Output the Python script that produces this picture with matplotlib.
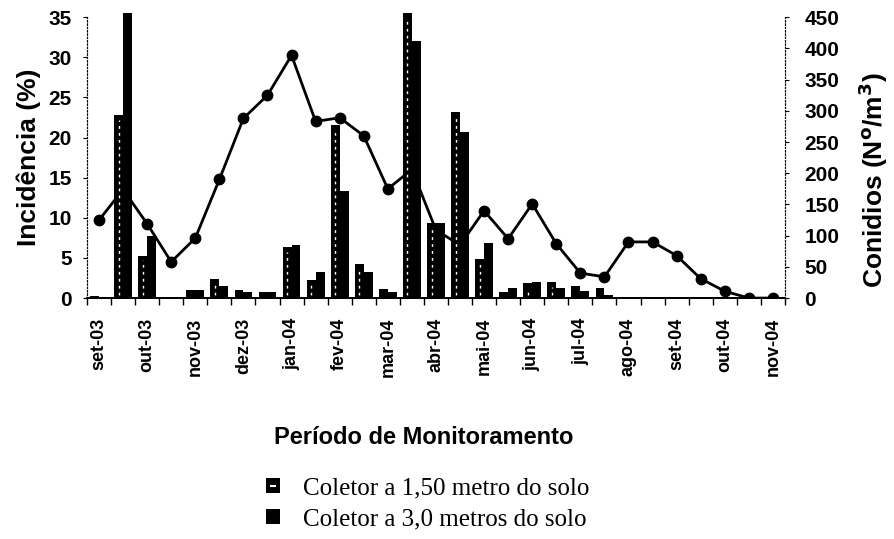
import numpy as np
import matplotlib
matplotlib.use("Agg")
import matplotlib.pyplot as plt
from matplotlib.lines import Line2D
from matplotlib.patches import Rectangle
from matplotlib.legend_handler import HandlerTuple

meses = ['set-03', 'out-03', 'nov-03', 'dez-03', 'jan-04', 'fev-04', 'mar-04', 'abr-04',
         'mai-04', 'jun-04', 'jul-04', 'ago-04', 'set-04', 'out-04', 'nov-04']

# incidencia (%) - coletas quinzenais
coletor_150 = [0.3, 22.8, 5.3, 0, 1.0, 2.4, 1.0, 0.8, 6.4, 2.2, 21.6, 4.2, 1.1, 35.5, 9.3,
               23.2, 4.9, 0.7, 1.9, 2.0, 1.5, 1.2, 0, 0, 0, 0, 0, 0, 0]
coletor_300 = [0, 35.5, 7.7, 0, 1.0, 1.5, 0.8, 0.8, 6.6, 3.2, 13.4, 3.2, 0.8, 32.0, 9.3,
               20.7, 6.9, 1.2, 2.0, 1.2, 0.9, 0.4, 0, 0, 0, 0, 0, 0, 0]
# conidios (N/m3)
conidios = [125, 174, 119, 58, 96, 190, 288, 325, 389, 283, 289, 260, 175, 206, 109,
            85, 140, 95, 151, 87, 40, 34, 90, 90, 68, 31, 11, 0, 0]

plt.rcParams['font.family'] = 'Liberation Sans'
plt.rcParams['font.weight'] = 'bold'

x = np.arange(len(conidios))
w = 0.37

fig = plt.figure(figsize=(8.94, 5.39), dpi=100)
ax = fig.add_axes([0.0973, 0.447, 0.7807, 0.521])
ax2 = ax.twinx()

# linha de conidios fica por baixo das barras
ax2.plot(x, conidios, color='black', lw=2, marker='o', ms=7.5, zorder=2)
ax.set_zorder(ax2.get_zorder() + 1)
ax.patch.set_visible(False)

b1 = ax.bar(x - w / 2, coletor_150, w, color='black', clip_on=False)
b2 = ax.bar(x + w / 2, coletor_300, w, color='black', clip_on=False)
h150 = np.array(coletor_150)
xl = (x - w / 2)[h150 > 1.5]
ax.vlines(xl, 0.4, h150[h150 > 1.5] - 0.6, colors='white', linestyles=(0, (2, 3)), lw=1)

ax.set_xlim(-0.5, len(x) - 0.5)
ax.set_ylim(0, 35)
ax2.set_ylim(0, 450)
ax.set_yticks(range(0, 36, 5))
ax2.set_yticks(range(0, 451, 50))

ax.set_xticks(x[::2])
ax.set_xticklabels(meses, rotation=90, fontsize=13)
ax.set_xticks(np.arange(-0.5, len(x), 1), minor=True)
ax.tick_params(axis='x', which='major', length=0, pad=14)
ax.tick_params(axis='x', which='minor', length=5, direction='out', width=1)
ax.tick_params(axis='y', labelsize=15, length=3, pad=8)
ax2.tick_params(axis='y', labelsize=15, length=3, pad=11)

for a in (ax, ax2):
    a.spines['top'].set_visible(False)
    a.spines['left'].set_linestyle((0, (1, 2)))
    a.spines['right'].set_linestyle((0, (1, 2)))
    a.spines['left'].set_linewidth(0.8)
    a.spines['right'].set_linewidth(0.8)
    a.spines['bottom'].set_linewidth(1.3)

ax.set_ylabel('Incidência (%)', fontsize=19, fontweight='bold', labelpad=5)
ax2.set_ylabel('Conidios (N$^{\\mathbf{o}}$/m$^{\\mathbf{3}}$)', fontsize=19, fontweight='bold')
ax2.yaxis.set_label_coords(1.103, 0.42)
ax.set_xlabel('Período de Monitoramento', fontsize=17, fontweight='bold')
ax.xaxis.set_label_coords(0.483, -0.455)

quadro = Rectangle((0, 0), 1, 1, fc='black')
marca = Line2D([], [], marker='_', color='white', ms=4, mew=1.5, ls='none')
fig.legend([(quadro, marca), Rectangle((0, 0), 1, 1, fc='black')],
           ['Coletor a 1,50 metro do solo', 'Coletor a 3,0 metros do solo'],
           handler_map={tuple: HandlerTuple(ndivide=1, pad=0)},
           loc='upper left', bbox_to_anchor=(0.297, 0.114), frameon=False,
           prop={'family': 'Liberation Serif', 'size': 18, 'weight': 'normal'},
           handlelength=0.56, handleheight=0.56, handletextpad=0.95, labelspacing=0.35,
           borderaxespad=0, borderpad=0)

fig.savefig('out.png', dpi=100)
